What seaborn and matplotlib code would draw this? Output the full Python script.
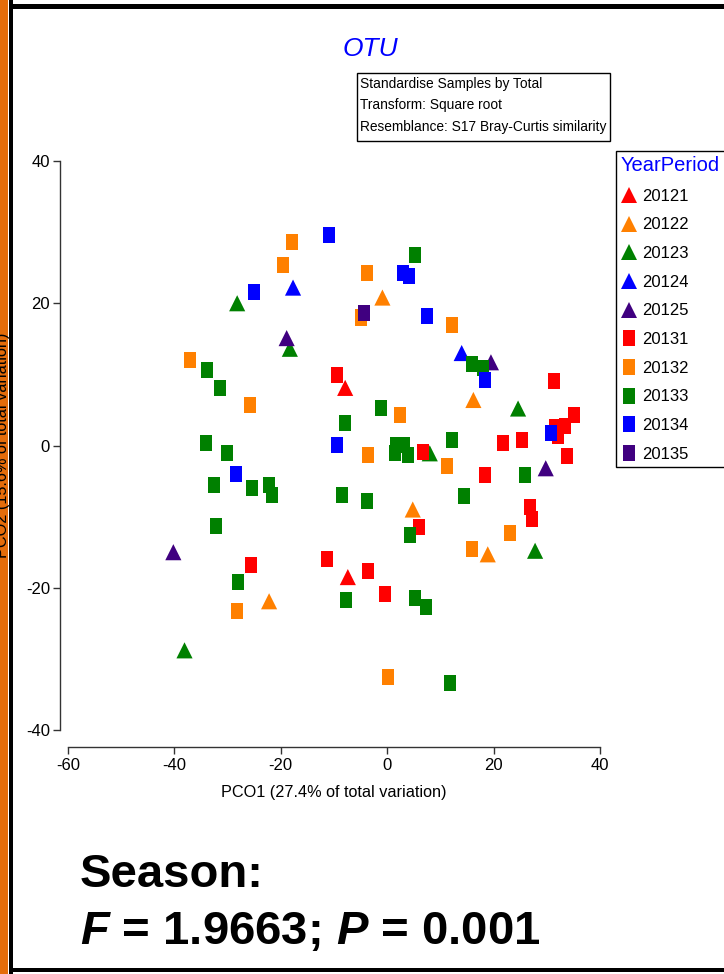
import matplotlib
matplotlib.use('Agg')
import matplotlib.pyplot as plt
from matplotlib.path import Path
from matplotlib.patches import Rectangle
import pandas as pd
import seaborn as sns

W, H = 724, 974

GROUPS = ['20121', '20122', '20123', '20124', '20125',
          '20131', '20132', '20133', '20134', '20135']

COLORS = {
    '20121': '#ff0000', '20122': '#ff8000', '20123': '#008000',
    '20124': '#0000ff', '20125': '#400080',
    '20131': '#ff0000', '20132': '#ff8000', '20133': '#008000',
    '20134': '#0000ff', '20135': '#400080',
}

# PCO1 / PCO2 scores, one pair of lists per YearPeriod
pco1_20121 = [-7.9, -7.4]
pco2_20121 = [8.1, -18.5]
pco1_20122 = [-0.9, 16.2, 4.8, 18.9, -22.2]
pco2_20122 = [20.8, 6.4, -9.0, -15.3, -21.9]
pco1_20123 = [-28.2, -18.3, 24.6, 8.0, 27.8, -38.1]
pco2_20123 = [20.0, 13.6, 5.2, -1.1, -14.8, -28.8]
pco1_20124 = [-17.7, 14.0]
pco2_20124 = [22.2, 13.0]
pco1_20125 = [-18.9, 19.5, 29.8, -40.2]
pco2_20125 = [15.1, 11.7, -3.2, -15.0]
pco1_20131 = [-9.5, 31.3, 35.1, 31.5, 33.4, 32.1, 21.7, 25.3, 33.8,
              6.7, 18.3, 26.8, 27.2, 6.0, -11.3, -3.6, -0.4, -25.6]
pco2_20131 = [9.9, 9.1, 4.3, 2.6, 2.7, 1.3, 0.35, 0.8, -1.5,
              -0.9, -4.2, -8.6, -10.3, -11.4, -16.0, -17.7, -20.9, -16.8]
pco1_20132 = [-17.9, -19.6, -37.1, -25.8, -3.8, -4.9, 12.2, 2.4, -3.6,
              11.2, 23.1, 15.9, -28.3, 0.1]
pco2_20132 = [28.6, 25.4, 12.0, 5.7, 24.3, 18.0, 16.9, 4.3, -1.3,
              -2.9, -12.3, -14.6, -23.3, -32.6]
pco1_20133 = [-33.9, -31.5, -34.1, -30.1, -8.0, 5.2, 15.9, 18.0, -1.2,
              12.1, 1.6, 3.1, 1.4, 3.9, 25.9, -8.5, -3.8, 14.4, 4.3,
              -7.8, 5.2, 7.3, 11.8, -32.6, -25.4, -22.2, -21.7, -32.2, -28.1]
pco2_20133 = [10.6, 8.1, 0.35, -1.0, 3.2, 26.8, 11.5, 10.9, 5.3,
              0.8, 0.1, 0.1, -1.1, -1.3, -4.2, -7.0, -7.8, -7.1, -12.6,
              -21.7, -21.4, -22.7, -33.4, -5.6, -6.0, -5.6, -7.0, -11.3, -19.2]
pco1_20134 = [-11.0, -25.1, 2.9, 4.1, 7.5, 18.4, 30.8, -9.5, -28.4]
pco2_20134 = [29.6, 21.6, 24.3, 23.8, 18.2, 9.2, 1.8, 0.1, -4.0]
pco1_20135 = [-4.4]
pco2_20135 = [18.6]

XTICKS = [-60, -40, -20, 0, 20, 40]
YTICKS = [-40, -20, 0, 20, 40]

pco1 = {'20121': pco1_20121, '20122': pco1_20122, '20123': pco1_20123,
        '20124': pco1_20124, '20125': pco1_20125, '20131': pco1_20131,
        '20132': pco1_20132, '20133': pco1_20133, '20134': pco1_20134,
        '20135': pco1_20135}
pco2 = {'20121': pco2_20121, '20122': pco2_20122, '20123': pco2_20123,
        '20124': pco2_20124, '20125': pco2_20125, '20131': pco2_20131,
        '20132': pco2_20132, '20133': pco2_20133, '20134': pco2_20134,
        '20135': pco2_20135}

rows = []
for g in GROUPS:
    for a, b in zip(pco1[g], pco2[g]):
        rows.append({'PCO1': a, 'PCO2': b, 'YearPeriod': g})
df = pd.DataFrame(rows)

# tall rectangle for the 2013 samples, triangles for 2012
rect = Path([(-0.75, -1), (0.75, -1), (0.75, 1), (-0.75, 1), (-0.75, -1)], closed=True)
MARKERS = {g: ('^' if g.startswith('2012') else rect) for g in GROUPS}

sns.set_style('white')
plt.rcParams['font.family'] = ['Liberation Sans', 'DejaVu Sans']
plt.rcParams['text.color'] = 'black'
plt.rcParams['xtick.color'] = 'black'
plt.rcParams['ytick.color'] = 'black'
plt.rcParams['axes.labelcolor'] = 'black'
plt.rcParams['axes.unicode_minus'] = False
plt.rcParams['mathtext.fontset'] = 'custom'
plt.rcParams['mathtext.bfit'] = 'Liberation Sans:italic:bold'
plt.rcParams['mathtext.bf'] = 'Liberation Sans:bold'
plt.rcParams['mathtext.rm'] = 'Liberation Sans'

fig = plt.figure(figsize=(W / 100, H / 100), dpi=100)
ax = fig.add_axes([68 / W, 1 - 730 / H, 532 / W, 569 / H])

sns.scatterplot(data=df, x='PCO1', y='PCO2', hue='YearPeriod', style='YearPeriod',
                hue_order=GROUPS, style_order=GROUPS, palette=COLORS,
                markers=MARKERS, s=135, linewidth=0, ax=ax, legend=True,
                clip_on=False, zorder=3)

ax.set_xlim(-60, 40)
ax.set_ylim(-40, 40)
ax.set_xticks(XTICKS)
ax.set_yticks(YTICKS)
for side in ['top', 'right']:
    ax.spines[side].set_visible(False)
ax.spines['left'].set_bounds(-40, 40)
ax.spines['left'].set_position(('outward', 6))
ax.spines['bottom'].set_bounds(-60, 40)
ax.spines['bottom'].set_position(('outward', 12))
for side in ['left', 'bottom']:
    ax.spines[side].set_color('#333333')
    ax.spines[side].set_linewidth(1.0)
ax.tick_params(axis='both', direction='out', length=5, width=1.0, color='#333333',
               labelsize=12, pad=2, left=True, bottom=True)
ax.tick_params(axis='x', pad=3)
ax.set_xlabel('PCO1 (27.4% of total variation)', fontsize=11.7, labelpad=9)
# the y label sits under the page frame, as in the slide
ax.set_ylabel('PCO2 (15.6% of total variation)', fontsize=11.7)
ax.yaxis.set_label_coords(-58 / 532, 0.5)

sns.move_legend(ax, loc='upper left', bbox_to_anchor=(616 / W, 1 - 151 / H),
                bbox_transform=fig.transFigure, title='YearPeriod', frameon=True,
                fancybox=False, edgecolor='black', framealpha=1, fontsize=12,
                title_fontsize=14.5, borderaxespad=0, handletextpad=0.25,
                labelspacing=0.82, borderpad=0.3, handlelength=1.0,
                alignment='left', markerscale=1.0)
leg = ax.get_legend()
leg.get_title().set_color('#0000ff')
leg.get_frame().set_linewidth(1.0)

fig.text(370 / W, 1 - 49 / H, 'OTU', color='#0000ff', fontsize=19, style='italic',
         ha='center', va='center')

fig.patches.append(Rectangle((357 / W, 1 - 141 / H), 253 / W, 68 / H,
                             transform=fig.transFigure, fill=False,
                             edgecolor='black', linewidth=1.0))
info = ['Standardise Samples by Total', 'Transform: Square root',
        'Resemblance: S17 Bray-Curtis similarity']
for i, line in enumerate(info):
    fig.text(360 / W, 1 - (84 + 21.5 * i) / H, line, fontsize=9.9,
             ha='left', va='center')

fig.text(80 / W, 1 - 875 / H, 'Season:', fontsize=34, fontweight='bold',
         ha='left', va='center')
fig.text(80 / W, 1 - 932 / H, r'$\mathbfit{F}$ = 1.9663; $\mathbfit{P}$ = 0.001',
         fontsize=34, fontweight='bold', ha='left', va='center')

# page frame: orange strip and black border, drawn beneath the axes
fig.patches.append(Rectangle((0, 0), 8 / W, 1, transform=fig.transFigure,
                             facecolor='#e46c0a', edgecolor='none', zorder=-2))
fig.patches.append(Rectangle((9 / W, 0), 4 / W, 1, transform=fig.transFigure,
                             facecolor='black', edgecolor='none', zorder=-2))
fig.patches.append(Rectangle((9 / W, 1 - 9 / H), 1, 5 / H, transform=fig.transFigure,
                             facecolor='black', edgecolor='none', zorder=-2))
fig.patches.append(Rectangle((9 / W, 1 - 972 / H), 1, 4 / H, transform=fig.transFigure,
                             facecolor='black', edgecolor='none', zorder=-2))

fig.savefig('out.png', dpi=100)
